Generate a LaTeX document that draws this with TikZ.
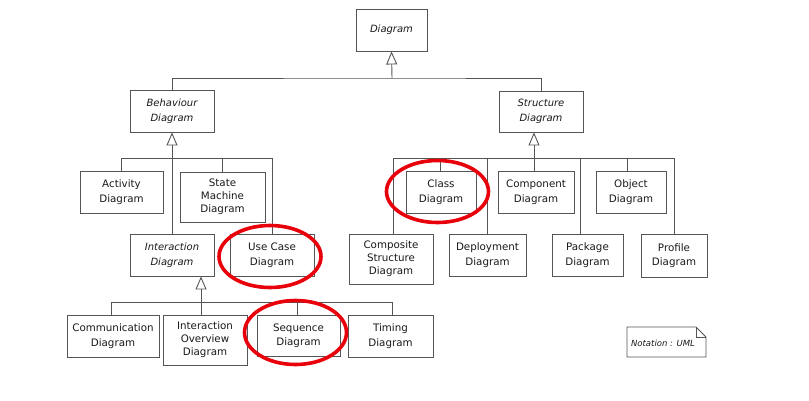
\documentclass[tikz,border=0pt]{standalone}
\usepackage{fontspec}
\newfontfamily\umlfont{DejaVu Sans}
\newfontfamily\notefont{DejaVu Sans}
\usetikzlibrary{arrows.meta}
\definecolor{boxline}{HTML}{555555}
\definecolor{txt}{HTML}{1A1A1A}
\definecolor{hilite}{HTML}{E8000B}
\begin{document}
\begin{tikzpicture}[x=1pt,y=-1pt,
  umlbox/.style={draw=boxline, line width=0.9pt, fill=white, inner sep=0pt, align=center,
    text=txt, font=\umlfont\fontsize{10.3}{14.5}\selectfont},
  umlbox3/.style={umlbox, font=\umlfont\fontsize{10.3}{13}\selectfont},
  abstractbox/.style={umlbox, font=\umlfont\itshape\fontsize{10}{14.5}\selectfont},
  conn/.style={draw=boxline, line width=0.9pt},
  inh/.style={conn, -{Triangle[open, length=13pt, width=11pt, line width=0.9pt]}},
  ring/.style={draw=hilite, line width=3.6pt}]
\useasboundingbox (0,0) rectangle (809,400);

% abstract nodes
\node[abstractbox, minimum width=71pt, minimum height=42pt] (dg) at (391.5,30) {Diagram};
\node[abstractbox, minimum width=84pt, minimum height=42pt] (bh) at (172,111) {Behaviour\\Diagram};
\node[abstractbox, minimum width=84pt, minimum height=41pt] (st) at (541,111.5) {Structure\\Diagram};
\node[abstractbox, minimum width=84pt, minimum height=42pt] (ia) at (172,255) {Interaction\\Diagram};

% behaviour children
\node[umlbox, minimum width=83pt, minimum height=42pt] (act) at (121.5,192) {Activity\\Diagram};
\node[umlbox3, minimum width=85pt, minimum height=50pt] (sm) at (222.5,197) {State\\Machine\\Diagram};
\node[umlbox, minimum width=84pt, minimum height=42pt] (uc) at (272,255) {Use Case\\Diagram};

% interaction children
\node[umlbox, minimum width=92pt, minimum height=42pt] (com) at (113,336) {Communication\\Diagram};
\node[umlbox3, minimum width=84pt, minimum height=50pt] (io) at (205,340) {Interaction\\Overview\\Diagram};
\node[umlbox, minimum width=83pt, minimum height=41pt] (sq) at (298.5,335.5) {Sequence\\Diagram};
\node[umlbox, minimum width=85pt, minimum height=42pt] (tm) at (390.5,336) {Timing\\Diagram};

% structure children
\node[umlbox, minimum width=70pt, minimum height=42pt] (cl) at (441,192) {Class\\Diagram};
\node[umlbox, minimum width=76pt, minimum height=42pt] (cp) at (536,192) {Component\\Diagram};
\node[umlbox, minimum width=70pt, minimum height=42pt] (ob) at (631,192) {Object\\Diagram};
\node[umlbox3, minimum width=84pt, minimum height=50pt] (cs) at (391,259) {Composite\\Structure\\Diagram};
\node[umlbox, minimum width=77pt, minimum height=42pt] (dp) at (487.5,255) {Deployment\\Diagram};
\node[umlbox, minimum width=71pt, minimum height=42pt] (pk) at (587.5,255) {Package\\Diagram};
\node[umlbox, minimum width=66pt, minimum height=43pt] (pf) at (674,255.5) {Profile\\Diagram};

% bus coordinates
\coordinate (busA) at (392,78);
\coordinate (busB) at (0,158);
\coordinate (busC) at (0,302);
\coordinate (busD) at (0,158);

% top level
\draw[conn] (bh.north) |- (busA) -| (st.north);
\draw[inh] (busA) -- (dg.south);

% behaviour
\draw[inh] (ia.north) -- (bh.south);
\draw[conn] (act.north) -- (act.north |- busB) -- (uc.north |- busB) -- (uc.north);
\draw[conn] ([xshift=-0.5pt]sm.north) -- ([xshift=-0.5pt]sm.north |- busB);

% interaction
\coordinate (ioc) at ([xshift=-4pt]io.north);
\draw[inh] (ioc) -- (ioc |- ia.south);
\coordinate (comc) at ([xshift=-2pt]com.north);
\coordinate (sqc) at ([xshift=-1.5pt]sq.north);
\coordinate (tmc) at ([xshift=1.5pt]tm.north);
\draw[conn] (comc) -- (comc |- busC) -- (tmc |- busC) -- (tmc);
\draw[conn] (sqc) -- (sqc |- busC);

% structure
\coordinate (cpc) at ([xshift=-2pt]cp.north);
\draw[inh] (cpc) -- (cpc |- st.south);
\coordinate (csc) at ([xshift=2pt]cs.north);
\coordinate (clc) at ([xshift=-1pt]cl.north);
\coordinate (dpc) at ([xshift=-0.5pt]dp.north);
\coordinate (pkc) at ([xshift=-7.5pt]pk.north);
\coordinate (obc) at ([xshift=-4pt]ob.north);
\draw[conn] (csc) -- (csc |- busD) -- (pf.north |- busD) -- (pf.north);
\draw[conn] (clc) -- (clc |- busD);
\draw[conn] (dpc) -- (dpc |- busD);
\draw[conn] (pkc) -- (pkc |- busD);
\draw[conn] (obc) -- (obc |- busD);

% note
\coordinate (n1) at (627,327);
\coordinate (n2) at (696,327);
\coordinate (n3) at (706,337);
\coordinate (n4) at (706,357);
\coordinate (n5) at (627,357);
\draw[conn, fill=white] (n1) -- (n2) -- (n3) -- (n4) -- (n5) -- cycle;
\draw[conn] (n2) -- (n2 |- n3) -- (n3);
\node[inner sep=0pt, text=txt, font=\notefont\itshape\fontsize{8.5}{10}\selectfont] (note) at (663,343) {Notation : UML};

% highlight rings
\draw[ring] (437.5,191.5) ellipse [x radius=51pt, y radius=31pt];
\draw[ring] (270,256.5) ellipse [x radius=51pt, y radius=31pt];
\draw[ring] (295.5,332.5) ellipse [x radius=51pt, y radius=32pt];
\end{tikzpicture}
\end{document}
